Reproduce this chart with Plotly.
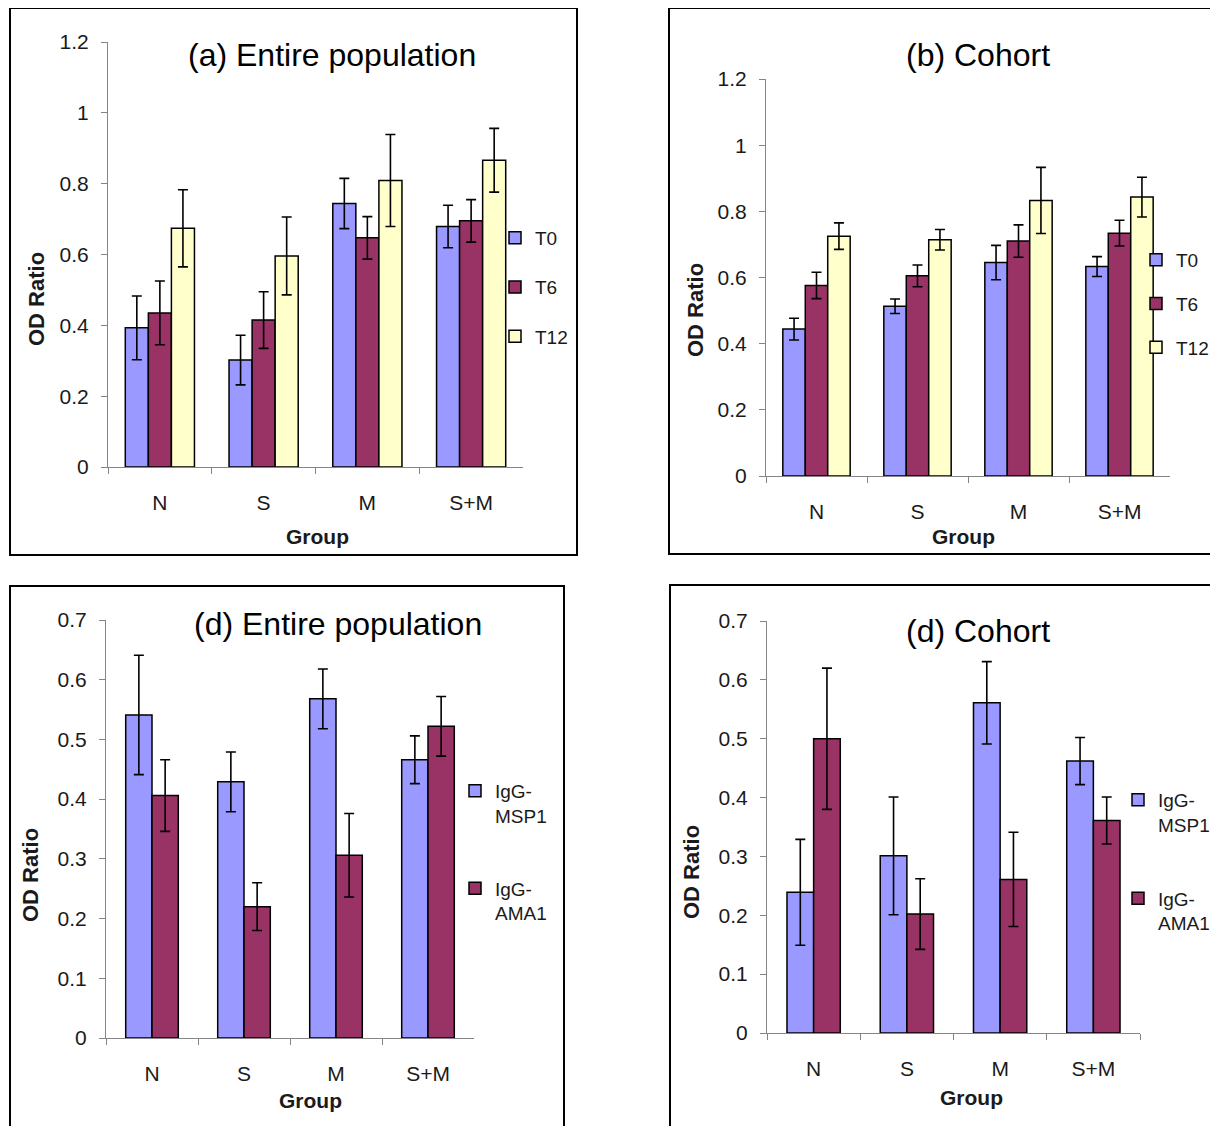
import plotly.graph_objects as go

W, H = 1218, 1126
OFF = 8  # page body margin compensation

groups = ["N", "S", "M", "S+M"]

# (a) Entire population
a_t0 = [0.393, 0.302, 0.744, 0.679]
a_t0_err = [0.09, 0.07, 0.071, 0.06]
a_t6 = [0.435, 0.415, 0.647, 0.695]
a_t6_err = [0.09, 0.08, 0.06, 0.06]
a_t12 = [0.674, 0.596, 0.809, 0.866]
a_t12_err = [0.109, 0.11, 0.13, 0.09]

# (b) Cohort
b_t0 = [0.444, 0.513, 0.645, 0.633]
b_t0_err = [0.033, 0.022, 0.052, 0.03]
b_t6 = [0.576, 0.605, 0.710, 0.734]
b_t6_err = [0.04, 0.033, 0.049, 0.039]
b_t12 = [0.725, 0.714, 0.833, 0.843]
b_t12_err = [0.04, 0.031, 0.10, 0.06]

# (d) Entire population (bottom left)
c_msp1 = [0.541, 0.429, 0.568, 0.466]
c_msp1_err = [0.10, 0.05, 0.05, 0.04]
c_ama1 = [0.406, 0.220, 0.306, 0.522]
c_ama1_err = [0.06, 0.04, 0.07, 0.05]

# (d) Cohort (bottom right)
d_msp1 = [0.239, 0.301, 0.561, 0.462]
d_msp1_err = [0.09, 0.10, 0.07, 0.04]
d_ama1 = [0.500, 0.202, 0.261, 0.361]
d_ama1_err = [0.12, 0.06, 0.08, 0.04]

BLUE = "#9999FF"
MAROON = "#993366"
CREAM = "#FFFFCC"
FONT = "Liberation Sans, Arial, sans-serif"
TXT = "#1a1a1a"
AX = "#858585"


def fx(px):
    return (px - OFF) / W


def fy(py):
    return 1 - (py - OFF) / H


fig = go.Figure()


def add_bar(name, y, err, color, xa, ya, legend, width, offset):
    fig.add_trace(go.Bar(
        x=groups, y=y, name=name,
        marker=dict(color=color, line=dict(color="black", width=1.5)),
        error_y=dict(type="data", array=err, visible=True, color="black",
                     thickness=1.6, width=5),
        xaxis=xa, yaxis=ya, legend=legend, legendgroup=name + legend,
        width=width, offset=offset,
    ))


w3 = 1 / 4.5
add_bar("T0", a_t0, a_t0_err, BLUE, "x", "y", "legend", w3, -1.5 * w3)
add_bar("T6", a_t6, a_t6_err, MAROON, "x", "y", "legend", w3, -0.5 * w3)
add_bar("T12", a_t12, a_t12_err, CREAM, "x", "y", "legend", w3, 0.5 * w3)

add_bar("T0", b_t0, b_t0_err, BLUE, "x2", "y2", "legend2", w3, -1.5 * w3)
add_bar("T6", b_t6, b_t6_err, MAROON, "x2", "y2", "legend2", w3, -0.5 * w3)
add_bar("T12", b_t12, b_t12_err, CREAM, "x2", "y2", "legend2", w3, 0.5 * w3)

w2 = 1 / 3.5
add_bar("IgG-<br>MSP1", c_msp1, c_msp1_err, BLUE, "x3", "y3", "legend3", w2, -w2)
add_bar("IgG-<br>AMA1", c_ama1, c_ama1_err, MAROON, "x3", "y3", "legend3", w2, 0)

add_bar("IgG-<br>MSP1", d_msp1, d_msp1_err, BLUE, "x4", "y4", "legend4", w2, -w2)
add_bar("IgG-<br>AMA1", d_ama1, d_ama1_err, MAROON, "x4", "y4", "legend4", w2, 0)


def xdom(l, r):
    return [fx(l), fx(r)]


def ydom(b, t):
    return [fy(b), fy(t)]


def xaxis(dom, anchor):
    return dict(
        domain=dom, anchor=anchor, type="category", range=[-0.5, 3.5],
        automargin=False,
        showline=True, linecolor=AX, linewidth=1, ticks="outside",
        tickson="boundaries", ticklen=6, tickcolor=AX, tickwidth=1,
        tickfont=dict(family=FONT, size=21, color=TXT),
        ticklabelstandoff=17, showgrid=False, zeroline=False,
        fixedrange=True,
    )


def yaxis(dom, anchor, rmax, dtick):
    return dict(
        domain=dom, anchor=anchor, range=[0, rmax], dtick=dtick,
        automargin=False,
        showline=True, linecolor=AX, linewidth=1, ticks="outside",
        ticklen=6, tickcolor=AX, tickwidth=1,
        tickfont=dict(family=FONT, size=21, color=TXT),
        ticklabelstandoff=8, showgrid=False, zeroline=False,
        fixedrange=True,
    )


def legend(xpx, ypx, gap):
    return dict(
        x=fx(xpx), y=fy(ypx), xanchor="left", yanchor="top",
        font=dict(family=FONT, size=19, color=TXT), bgcolor="rgba(0,0,0,0)",
        borderwidth=0, tracegroupgap=gap, itemclick=False, itemdoubleclick=False,
        valign="top", traceorder="grouped",
    )


fig.update_layout(
    width=W, height=H, margin=dict(l=0, r=0, t=0, b=0, autoexpand=False),
    paper_bgcolor="white", plot_bgcolor="white", barmode="overlay",
    showlegend=True,
    xaxis=xaxis(xdom(108, 523), "y"),
    yaxis=yaxis(ydom(467, 42), "x", 1.2, 0.2),
    xaxis2=xaxis(xdom(766, 1170), "y2"),
    yaxis2=yaxis(ydom(476, 79), "x2", 1.2, 0.2),
    xaxis3=xaxis(xdom(106, 474), "y3"),
    yaxis3=yaxis(ydom(1038, 620), "x3", 0.7, 0.1),
    xaxis4=xaxis(xdom(767, 1140), "y4"),
    yaxis4=yaxis(ydom(1033, 621), "x4", 0.7, 0.1),
    legend=legend(495, 219, 21.5),
    legend2=legend(1136, 241, 16),
    legend3=legend(455, 772, 45),
    legend4=legend(1118, 781, 46),
)

# panel frames
frames = [(10, 8, 577, 555), (669, 8, 1240, 554), (10, 586, 564, 1150), (670, 585, 1240, 1150)]
for (x0, y0, x1, y1) in frames:
    fig.add_shape(type="rect", xref="paper", yref="paper",
                  x0=fx(x0), x1=fx(x1), y0=fy(y0), y1=fy(y1),
                  line=dict(color="black", width=2), fillcolor="rgba(0,0,0,0)",
                  layer="below")

titles = [("(a) Entire population", 332, 55), ("(b) Cohort", 978, 55),
          ("(d) Entire population", 338, 624), ("(d) Cohort", 978, 631)]
for text, xc, yc in titles:
    fig.add_annotation(text=text, x=fx(xc), y=fy(yc), xref="paper", yref="paper",
                       xanchor="center", yanchor="middle", showarrow=False,
                       font=dict(family=FONT, size=32, color="black"))

# y-axis titles
ytitles = [(37, 299), (696, 310), (30, 875), (691, 872)]
for xc, yc in ytitles:
    fig.add_annotation(text="<b>OD Ratio</b>", x=fx(xc), y=fy(yc), xref="paper",
                       yref="paper", xanchor="center", yanchor="middle",
                       showarrow=False, textangle=-90,
                       font=dict(family=FONT, size=22, color=TXT))

# x-axis titles
xtitles = [(317, 536), (963, 537), (310, 1100), (971, 1097)]
for xc, yc in xtitles:
    fig.add_annotation(text="<b>Group</b>", x=fx(xc), y=fy(yc), xref="paper",
                       yref="paper", xanchor="center", yanchor="middle",
                       showarrow=False, font=dict(family=FONT, size=21, color=TXT))

fig.write_html("out.html")
